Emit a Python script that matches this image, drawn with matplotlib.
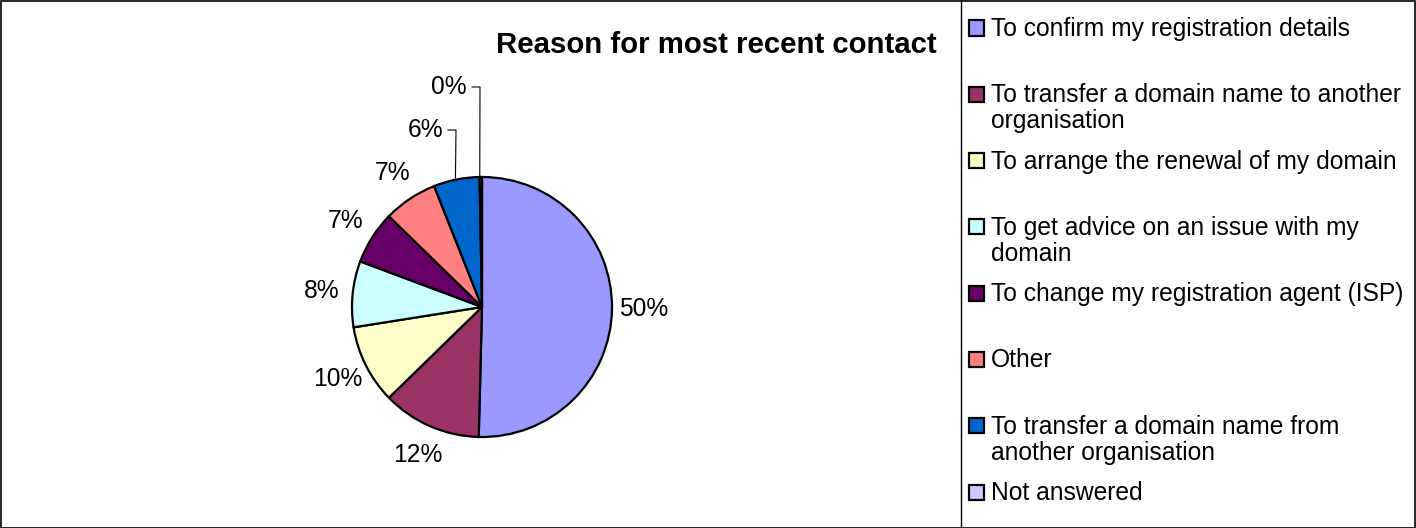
"""Excel-style pie: reason for most recent contact, with side legend."""
import matplotlib
matplotlib.use("Agg")
import matplotlib.pyplot as plt
from matplotlib.patches import Rectangle
from matplotlib.lines import Line2D
import numpy as np

plt.rcParams["font.family"] = ["Liberation Sans", "DejaVu Sans"]

W, H = 1416, 528

LABELS = [
    "To confirm my registration details",
    "To transfer a domain name to another\norganisation",
    "To arrange the renewal of my domain",
    "To get advice on an issue with my\ndomain",
    "To change my registration agent (ISP)",
    "Other",
    "To transfer a domain name from\nanother organisation",
    "Not answered",
]
VALUES = [50.4, 12.3, 9.8, 8.2, 6.6, 6.7, 5.7, 0.3]
COLORS = ["#9999FF", "#993366", "#FFFFCC", "#CCFFFF",
          "#660066", "#FF8080", "#0066CC", "#CCCCFF"]

TITLE = "Reason for most recent contact"
FS = 17.7
CENTER = (482, H - 307)
RADIUS = 130

fig = plt.figure(figsize=(W / 100, H / 100), dpi=100)
ax = fig.add_axes([0, 0, 1, 1])

wedges, _ = ax.pie(VALUES, colors=COLORS, startangle=90, counterclock=False,
                   center=CENTER, radius=RADIUS, frame=True,
                   wedgeprops=dict(edgecolor="black", linewidth=1.6))
ax.set_xlim(0, W)
ax.set_ylim(0, H)
ax.set_aspect("equal")
ax.axis("off")

# percentage labels; the two thin slices at the top get leader lines
leader = {6: (443, H - 130), 7: (467, H - 87)}
for i, (w, v) in enumerate(zip(wedges, VALUES)):
    txt = f"{v:.0f}%"
    mid = np.deg2rad((w.theta1 + w.theta2) / 2)
    ex = CENTER[0] + RADIUS * np.cos(mid)
    ey = CENTER[1] + RADIUS * np.sin(mid)
    if i in leader:
        tx, ty = leader[i]
        ax.text(tx, ty, txt, fontsize=FS, ha="right", va="center")
        ax.plot([tx + 5, tx + 13, ex - 1], [ty, ty, ey + 1],
                color="black", lw=0.8)
    else:
        d = RADIUS * 1.24
        ax.text(CENTER[0] + d * np.cos(mid), CENTER[1] + d * np.sin(mid), txt,
                fontsize=FS, ha="center", va="center")

fig.text(937 / W, 1 - 45 / H, TITLE, fontsize=21.2, fontweight="bold",
         ha="right", va="center")

# legend, drawn Excel-style: evenly spaced rows
LX = 961
fig.add_artist(Line2D([LX / W, LX / W], [0, 1], color="black", lw=1,
                      transform=fig.transFigure))
fig.add_artist(Rectangle((0.5 / W, 0.5 / H), 1 - 1.5 / W, 1 - 1.5 / H,
                         transform=fig.transFigure, fill=False,
                         edgecolor="black", lw=1.2))
row_y = np.linspace(28, 492, len(LABELS))
for lab, col, y in zip(LABELS, COLORS, row_y):
    fig.add_artist(Rectangle((969 / W, 1 - (y + 7.5) / H), 15 / W, 15 / H,
                             transform=fig.transFigure, facecolor=col,
                             edgecolor="black", lw=1.6))
    fig.text(991 / W, 1 - (y - 11) / H, lab, fontsize=FS, ha="left",
             va="top", linespacing=1.1)

fig.savefig("out.png", dpi=100, facecolor="white")
